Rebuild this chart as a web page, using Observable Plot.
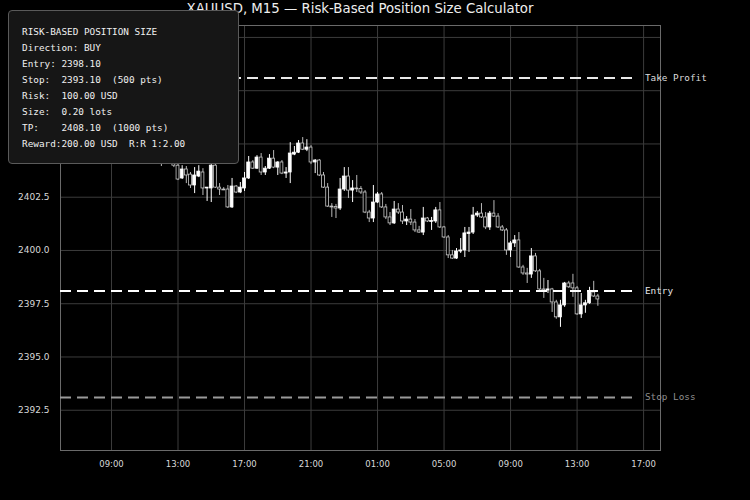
<!DOCTYPE html>
<html>
<head>
<meta charset="utf-8">
<script src="https://cdn.jsdelivr.net/npm/d3@7"></script>
<script src="https://cdn.jsdelivr.net/npm/@observablehq/plot@0.6"></script>
<style>
  html, body { margin: 0; padding: 0; background: #000; }
  #wrap { position: relative; width: 750px; height: 500px; background: #000; overflow: hidden; }
  #wrap svg { position: absolute; left: 0; top: 0; }
  #title { position: absolute; left: 60px; width: 600px; top: 1px; text-align: center;
           font-family: "DejaVu Sans", sans-serif; font-size: 13.3px; color: #eeeeee; }
  #info { position: absolute; left: 8px; top: 10px; width: 231px; height: 154px; box-sizing: border-box;
          background: #161616; border: 1px solid #5a5a5a; border-radius: 4px;
          padding: 13px 0 0 13px; font-family: "DejaVu Sans Mono", monospace; font-size: 9.35px;
          line-height: 16px; color: #f0f0f0; white-space: pre; }
</style>
</head>
<body>
<div id="wrap">
  <div id="title"></div>
  <div id="info"></div>
</div>
<script>
// ---- data ----
const symbolTitle = "XAUUSD, M15 — Risk-Based Position Size Calculator";
const firstBarTime = "2024-06-03T12:00:00Z"; // M15 bars
const barOpen = [2404.31,2404.22,2404.36,2404.22,2403.98,2403.38,2403.80,2403.56,2403.05,2403.47,
  2403.66,2402.91,2402.91,2403.98,2402.95,2402.86,2402.86,2402.02,2403.00,2402.72,
  2402.91,2403.38,2404.13,2403.84,2404.36,2403.66,2403.84,2404.31,2403.89,2404.13,
  2403.61,2403.66,2404.50,2404.59,2405.02,2404.73,2404.83,2404.13,2404.22,2403.52,
  2402.95,2402.06,2402.04,2401.97,2402.86,2403.47,2402.81,2402.91,2402.89,2402.72,
  2401.78,2401.50,2402.25,2402.63,2402.02,2401.55,2401.27,2401.92,2401.78,2401.36,
  2401.45,2401.31,2400.94,2400.84,2401.50,2401.34,2401.36,2401.88,2401.08,2400.61,
  2399.77,2399.62,2399.95,2400.00,2400.77,2400.84,2401.64,2401.73,2401.55,2401.08,
  2401.73,2401.59,2401.08,2400.94,2400.00,2400.33,2400.47,2399.20,2398.92,2398.87,
  2399.72,2399.02,2398.17,2398.12,2398.17,2397.56,2396.86,2397.42,2398.45,2398.45,
  2398.22,2397.00,2397.42,2397.52,2398.03,2397.84];
const barHigh = [2404.55,2404.59,2404.69,2404.41,2404.08,2403.98,2403.94,2403.66,2403.89,2403.98,
  2403.84,2402.95,2404.03,2404.03,2403.14,2402.95,2403.05,2403.38,2403.05,2403.19,
  2403.66,2404.41,2404.22,2404.45,2404.55,2403.94,2404.50,2404.69,2404.17,2404.22,
  2403.89,2405.06,2404.88,2405.16,2405.30,2405.20,2404.92,2404.27,2404.27,2403.66,
  2403.14,2402.20,2402.16,2403.38,2403.89,2403.89,2403.28,2403.52,2403.00,2402.81,
  2401.88,2403.05,2402.72,2402.72,2402.16,2401.78,2402.30,2402.20,2402.11,2401.59,
  2401.92,2401.45,2401.13,2402.02,2401.55,2401.55,2402.02,2402.25,2401.13,2400.70,
  2400.00,2400.09,2400.56,2401.08,2401.08,2402.02,2401.83,2402.20,2401.78,2401.83,
  2402.34,2401.73,2401.17,2401.03,2400.42,2400.70,2400.84,2399.30,2399.16,2400.09,
  2399.86,2399.11,2398.69,2398.59,2398.22,2397.66,2397.66,2398.50,2398.55,2398.88,
  2398.31,2397.98,2397.66,2398.27,2398.55,2397.94];
const barLow = [2403.94,2404.13,2404.13,2403.89,2403.28,2403.33,2403.14,2402.91,2402.67,2403.42,
  2402.58,2402.30,2402.25,2402.91,2402.58,2402.81,2401.97,2401.97,2402.67,2402.67,
  2402.77,2403.33,2403.80,2403.80,2403.52,2403.52,2403.80,2403.84,2403.52,2403.56,
  2403.38,2403.14,2404.45,2404.55,2404.69,2404.64,2404.03,2403.61,2403.47,2402.91,
  2402.02,2401.55,2401.50,2401.88,2402.77,2402.44,2402.25,2402.72,2402.63,2401.73,
  2401.31,2401.31,2402.20,2401.97,2401.45,2401.17,2401.22,2401.69,2401.22,2401.17,
  2401.17,2400.84,2400.80,2400.70,2401.31,2400.94,2401.27,2401.03,2400.56,2399.62,
  2399.58,2399.58,2399.86,2399.67,2399.91,2400.75,2401.55,2401.50,2400.98,2400.94,
  2401.55,2401.03,2400.89,2399.77,2399.67,2400.14,2399.16,2398.83,2398.45,2398.69,
  2398.97,2398.12,2397.75,2397.98,2397.09,2396.77,2396.39,2397.33,2398.22,2397.80,
  2396.95,2396.81,2397.05,2397.47,2397.80,2397.38];
const barClose = [2404.22,2404.36,2404.22,2403.98,2403.33,2403.80,2403.52,2403.05,2403.52,2403.70,
  2402.91,2402.95,2403.98,2402.95,2402.86,2402.84,2402.02,2403.00,2402.72,2402.95,
  2403.38,2404.13,2403.84,2404.36,2403.66,2403.84,2404.31,2403.89,2404.13,2403.61,
  2403.66,2404.55,2404.59,2405.02,2404.73,2404.83,2404.13,2404.22,2403.52,2402.95,
  2402.06,2402.04,2401.97,2402.86,2403.47,2402.81,2402.91,2402.89,2402.72,2401.78,
  2401.50,2402.25,2402.63,2402.02,2401.55,2401.27,2401.92,2401.78,2401.36,2401.45,
  2401.31,2400.94,2400.84,2401.50,2401.36,2401.38,2401.88,2401.08,2400.61,2399.77,
  2399.62,2399.95,2400.00,2400.80,2400.84,2401.64,2401.73,2401.55,2401.08,2401.73,
  2401.59,2401.08,2400.94,2400.00,2400.33,2400.47,2399.20,2398.92,2398.87,2399.72,
  2399.02,2398.17,2398.12,2398.17,2397.56,2396.86,2397.42,2398.45,2398.27,2398.22,
  2397.00,2397.42,2397.52,2398.03,2397.84,2397.70];

const levelNames  = ["Take Profit", "Entry", "Stop Loss"];
const levelPrices = [2408.10, 2398.10, 2393.10];

const yTickValues = [2392.5, 2395.0, 2397.5, 2400.0, 2402.5, 2405.0, 2407.5, 2410.0];
const xTickTimes = ["2024-06-03T09:00:00Z","2024-06-03T13:00:00Z","2024-06-03T17:00:00Z","2024-06-03T21:00:00Z",
  "2024-06-04T01:00:00Z","2024-06-04T05:00:00Z","2024-06-04T09:00:00Z","2024-06-04T13:00:00Z","2024-06-04T17:00:00Z"];

const infoLines = [
  "RISK-BASED POSITION SIZE",
  "Direction: BUY",
  "Entry: 2398.10",
  "Stop:  2393.10  (500 pts)",
  "Risk:  100.00 USD",
  "Size:  0.20 lots",
  "TP:    2408.10  (1000 pts)",
  "Reward:200.00 USD  R:R 1:2.00"
];

// ---- build ----
const t0 = new Date(firstBarTime).getTime();
const bars = barOpen.map((o, i) => ({
  time: new Date(t0 + i * 15 * 60000),
  open: o, high: barHigh[i], low: barLow[i], close: barClose[i]
}));
const levels = levelNames.map((n, i) => ({ name: n, price: levelPrices[i] }));
const xTicks = xTickTimes.map(s => new Date(s));

const xStart = new Date("2024-06-03T05:56:00Z");
const xEnd = new Date("2024-06-04T18:01:00Z");
const lineEnd = new Date("2024-06-04T16:38:00Z");
const labelAt = new Date("2024-06-04T17:05:00Z");

const levelStroke = { "Take Profit": "#e8e8e8", "Entry": "#ffffff", "Stop Loss": "#9a9a9a" };
const levelText = { "Take Profit": "#dcdcdc", "Entry": "#e6e6e6", "Stop Loss": "#8f8f8f" };

const bull = d => d.close >= d.open;
const halfBody = 5.2 * 60000;

const chart = Plot.plot({
  width: 750,
  height: 500,
  marginLeft: 60,
  marginRight: 90,
  marginTop: 25,
  marginBottom: 50,
  style: { background: "#000", color: "#d0d0d0", fontFamily: "DejaVu Sans" },
  x: { type: "utc", domain: [xStart, xEnd] },
  y: { domain: [2390.61, 2410.56] },
  color: { type: "identity" },
  marks: [
    Plot.gridY(yTickValues, { stroke: "#3c3c3c", strokeOpacity: 1, strokeWidth: 1 }),
    Plot.gridX(xTicks, { stroke: "#3c3c3c", strokeOpacity: 1, strokeWidth: 1 }),
    Plot.frame({ stroke: "#6a6a6a", strokeWidth: 1 }),
    Plot.axisY({ ticks: yTickValues, tickFormat: d => d.toFixed(1), tickSize: 0, tickPadding: 11,
                 fontSize: 9, fill: "#d8d8d8", label: null }),
    Plot.axisX({ ticks: xTicks, tickFormat: d3.utcFormat("%H:%M"), tickSize: 0, tickPadding: 10,
                 fontSize: 8.5, fill: "#d8d8d8", label: null }),
    Plot.ruleX(bars, { x: "time", y1: "low", y2: "high",
                       stroke: d => bull(d) ? "#ffffff" : "#b8b8b8", strokeWidth: 1 }),
    Plot.rect(bars, {
      x1: d => new Date(+d.time - halfBody),
      x2: d => new Date(+d.time + halfBody),
      y1: "open",
      y2: d => Math.abs(d.close - d.open) < 0.04 ? d.open + (bull(d) ? 0.04 : -0.04) : d.close,
      fill: d => bull(d) ? "#ffffff" : "#000000",
      stroke: d => bull(d) ? "#ffffff" : "#c8c8c8",
      strokeWidth: 0.8
    }),
    Plot.ruleY(levels, { y: "price", x1: () => xStart, x2: () => lineEnd,
                         stroke: d => levelStroke[d.name], strokeWidth: 2, strokeDasharray: "11,6" }),
    Plot.text(levels, { x: () => labelAt, y: "price", text: "name", textAnchor: "start",
                        fill: d => levelText[d.name], fontFamily: "DejaVu Sans Mono", fontSize: 9.35 })
  ]
});

const wrap = document.getElementById("wrap");
wrap.insertBefore(chart, wrap.firstChild);
document.getElementById("title").textContent = symbolTitle;
document.getElementById("info").textContent = infoLines.join("\n");
</script>
</body>
</html>
